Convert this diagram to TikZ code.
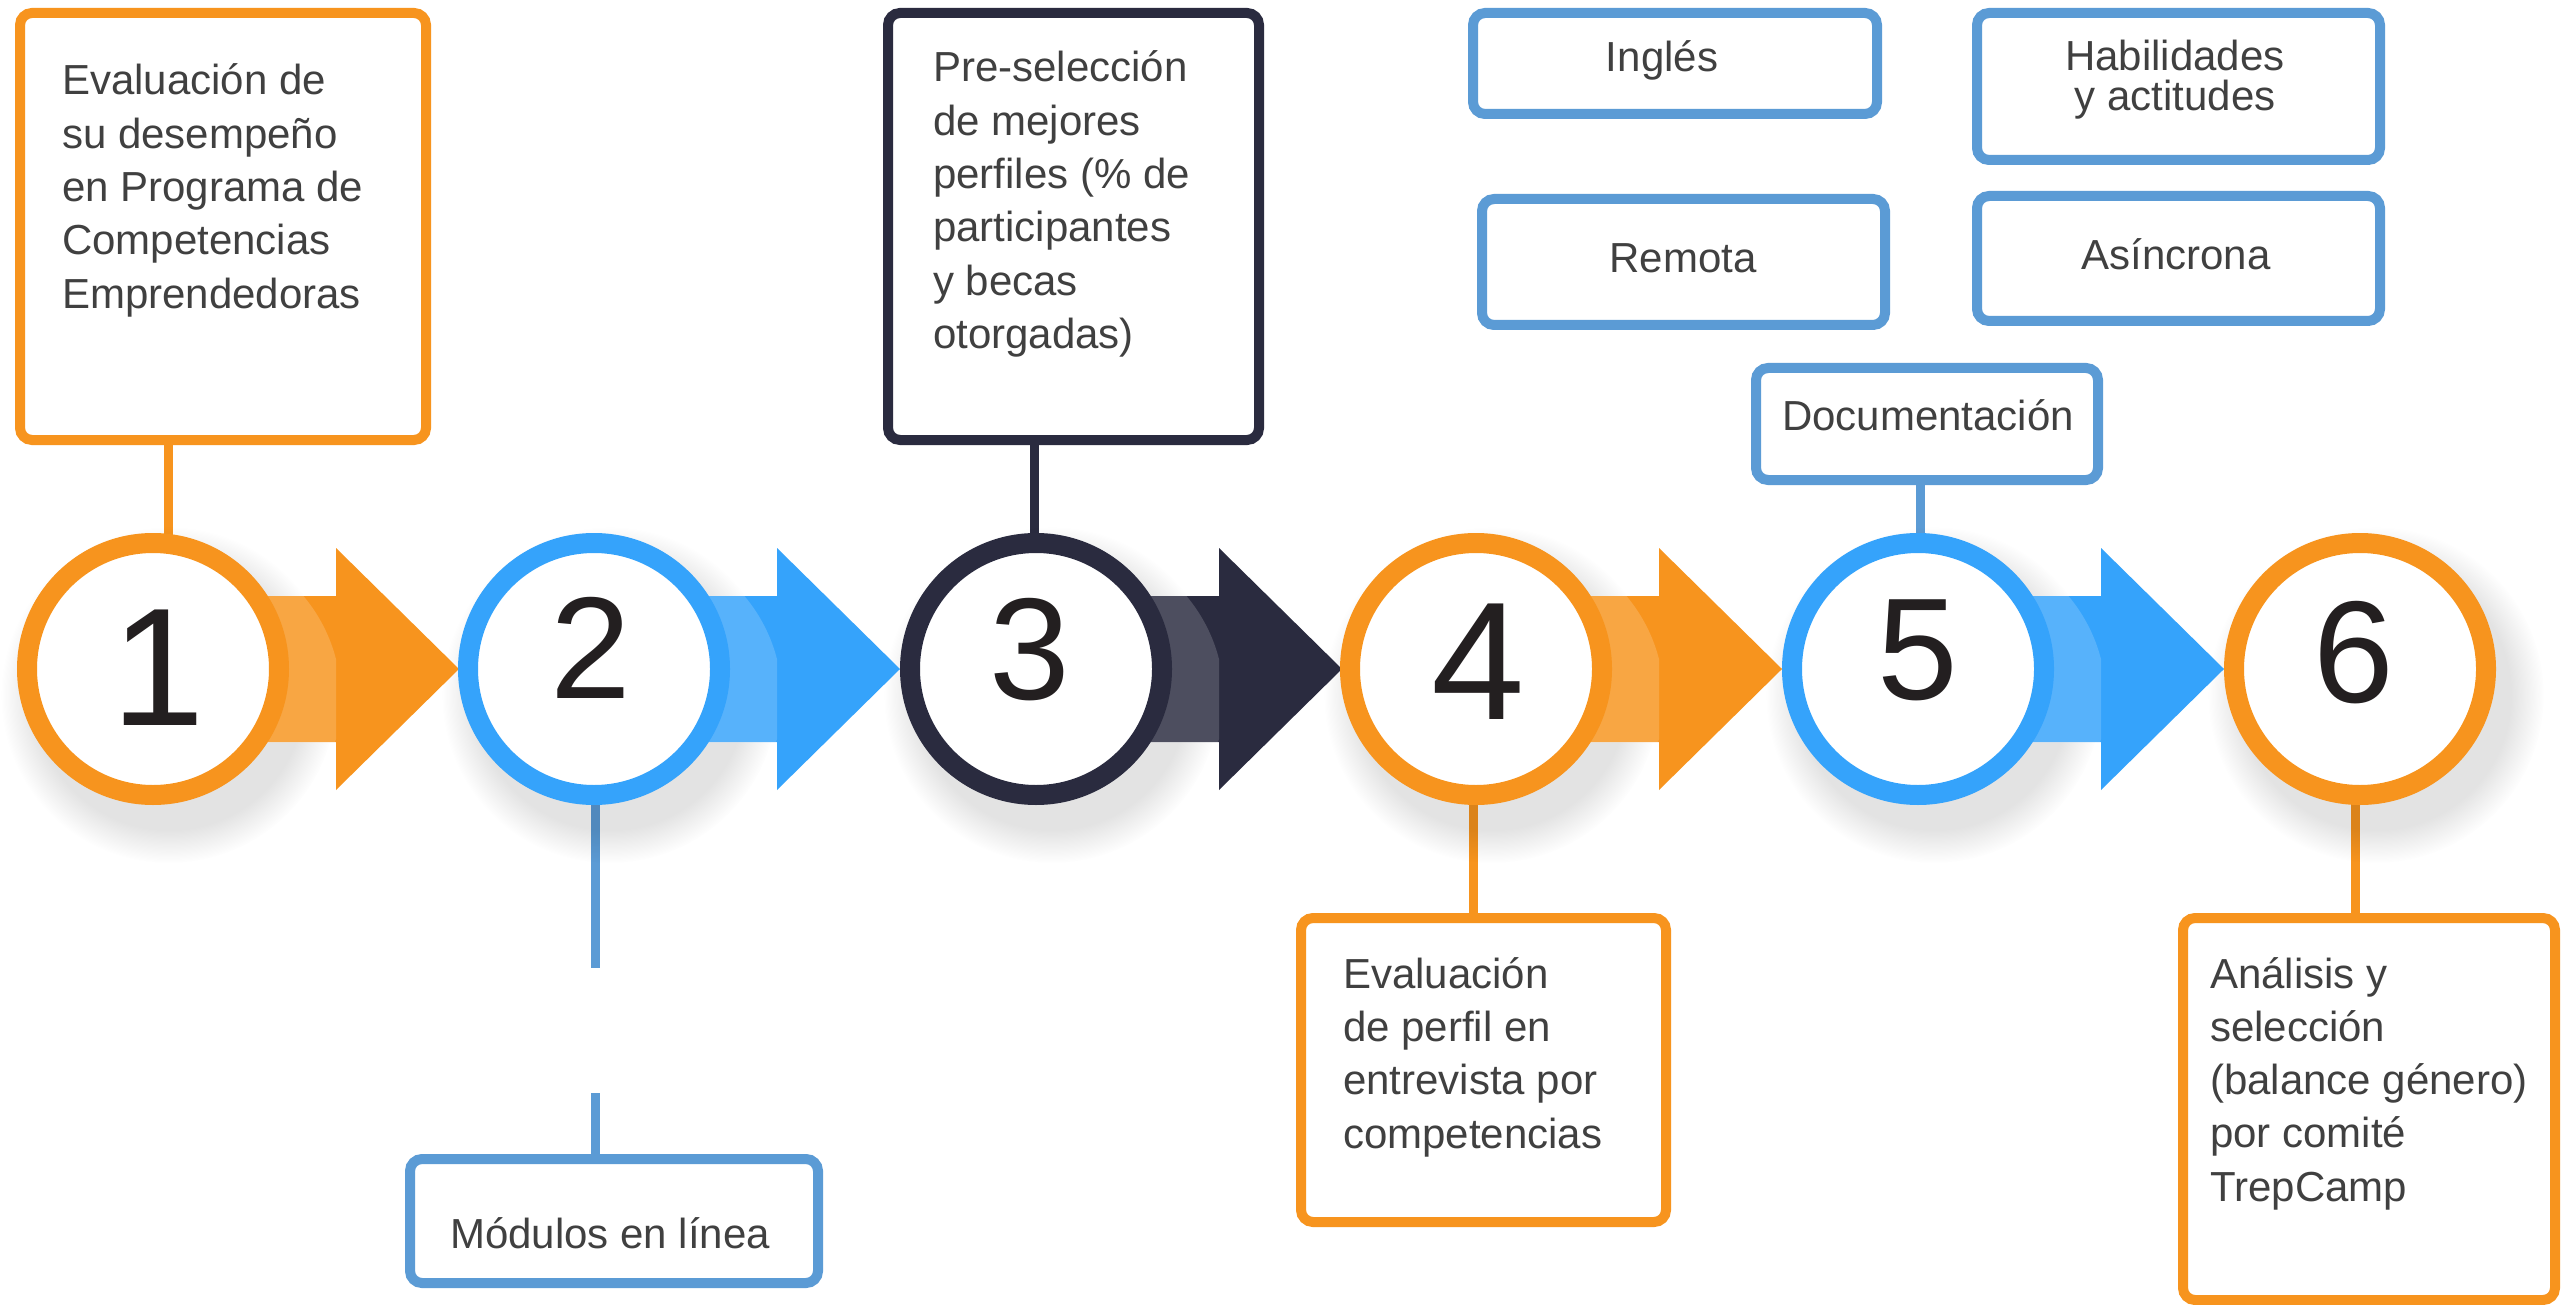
\documentclass[tikz,border=0pt]{standalone}
\usepackage{fontspec}
\setmainfont{Liberation Sans}
\usetikzlibrary{fadings}
\definecolor{cOr}{HTML}{F7941E}
\definecolor{cBl}{HTML}{35A3FB}
\definecolor{cNv}{HTML}{2A2B3F}
\definecolor{cSb}{HTML}{5B9BD5}
\definecolor{cTx}{HTML}{404040}
\definecolor{cDg}{HTML}{231F20}
\pgfdeclarelayer{back}
\pgfdeclarelayer{mid}
\pgfsetlayers{back,mid,main}
\newcommand\flowarrow[2]{%
  \fill[#2] (#1.center) ++(0,-73) -- ++(183,0) -- ++(0,-48) -- ++(123,121)
     -- ++(-123,121) -- ++(0,-48) -- ++(-183,0) -- cycle;
  \begin{scope}
    \clip (#1.center) ++(0,-73) rectangle ++(183,146);
    \fill[white, opacity=0.17] (#1.center) ++(28,30) circle[radius=160];
  \end{scope}}
\begin{document}
\begin{tikzpicture}[x=1pt,y=-1pt,
  bx/.style={draw, line width=10pt, rounded corners=12pt, fill=white, inner sep=0pt},
  obox/.style={bx, draw=cOr},
  nbox/.style={bx, draw=cNv},
  sbox/.style={bx, draw=cSb},
  txt/.style={text=cTx, font=\fontsize{42}{53.3}\selectfont, inner sep=0pt, align=left, anchor=base west},
  ctxt/.style={text=cTx, font=\fontsize{42}{40}\selectfont, inner sep=0pt, align=center, anchor=base},
  ring/.style={circle, draw=#1, line width=20pt, fill=white, minimum size=252pt, inner sep=0pt},
  digit/.style={text=cDg, inner sep=0pt, anchor=center},
  conn/.style={line width=9pt, draw=#1},
  shadowdisk/.style={fill=black, opacity=0.11, path fading=circle with fuzzy edge 20 percent}]
\useasboundingbox (0,0) rectangle (2570,1305);

% circles
\node[ring=cOr] (c1) at (153,669) {};
\node[ring=cBl] (c2) at (594,669) {};
\node[ring=cNv] (c3) at (1036,669) {};
\node[ring=cOr] (c4) at (1476,669) {};
\node[ring=cBl] (c5) at (1918,669) {};
\node[ring=cOr] (c6) at (2360,669) {};

% digits
\node[digit, font=\fontsize{168}{168}\selectfont] (d1) at (158,668) {1};
\node[digit, font=\fontsize{145}{145}\selectfont] (d2) at (591,648) {2};
\node[digit, font=\fontsize{145}{145}\selectfont] (d3) at (1030,650) {3};
\node[digit, font=\fontsize{168}{168}\selectfont] (d4) at (1478,662) {4};
\node[digit, font=\fontsize{145}{145}\selectfont] (d5) at (1918,650) {5};
\node[digit, font=\fontsize{145}{145}\selectfont] (d6) at (2354,653) {6};

% boxes
\node[obox, minimum width=406pt, minimum height=427pt] (b1) at (223,226.5) {};
\node[nbox, minimum width=371pt, minimum height=427pt] (b3) at (1073.5,226.5) {};
\node[sbox, minimum width=404pt, minimum height=101pt] (bI) at (1675,63.5) {};
\node[sbox, minimum width=403pt, minimum height=147pt] (bH) at (2178.5,86.5) {};
\node[sbox, minimum width=403pt, minimum height=126pt] (bR) at (1683.5,262) {};
\node[sbox, minimum width=403pt, minimum height=125pt] (bA) at (2178.5,258.5) {};
\node[sbox, minimum width=342pt, minimum height=112pt] (b5) at (1927,424) {};
\node[sbox, minimum width=408pt, minimum height=124pt] (b2) at (614,1221) {};
\node[obox, minimum width=365pt, minimum height=304pt] (b4) at (1483.5,1070) {};
\node[obox, minimum width=372pt, minimum height=382pt] (b6) at (2369,1109) {};

% texts (anchor = baseline of the last line)
\node[txt] (t1) at (62,308.2) {Evaluación de\\su desempeño\\en Programa de\\Competencias\\Emprendedoras};
\node[txt] (t3) at (933,348.5) {Pre-selección\\de mejores\\perfiles (\% de\\participantes\\y becas\\otorgadas)};
\node[txt] (t4) at (1343,1148) {Evaluación\\de perfil en\\entrevista por\\competencias};
\node[txt] (t6) at (2210,1201.2) {Análisis y\\selección\\(balance género)\\por comité\\TrepCamp};
\node[txt] (t2) at (450,1248) {Módulos en línea};
\node[ctxt] (tI) at (1662,72) {Inglés};
\node[ctxt] (tH) at (2175,111) {Habilidades\\y actitudes};
\node[ctxt] (tR) at (1683,273) {Remota};
\node[ctxt] (tA) at (2176,270) {Asíncrona};
\node[ctxt] (tD) at (1928,430) {Documentación};

% connector guide coordinates
\coordinate (k1) at (168,0);
\coordinate (k3) at (1034,0);
\coordinate (k5) at (1920,0);
\coordinate (k4) at (1473,0);
\coordinate (k6) at (2355,0);
\coordinate (g1) at (595,968);
\coordinate (g2) at (595,1093);

\begin{pgfonlayer}{back}
  \fill[white] (0,0) rectangle (2570,1305);
  \draw[conn=cOr] (b1.south -| k1) -- (c1.center -| k1);
  \draw[conn=cNv] (b3.south -| k3) -- (c3.center -| k3);
  \draw[conn=cSb] (b5.south -| k5) -- (c5.center -| k5);
  \draw[conn=cOr] (c4.center -| k4) -- (b4.north -| k4);
  \draw[conn=cOr] (c6.center -| k6) -- (b6.north -| k6);
  \draw[conn=cSb] (c2.south -| g1) -- (g1);
  \draw[conn=cSb] (g2) -- (b2.north -| g2);
  \foreach \c in {c1,c2,c3,c4,c5,c6}
    \fill[shadowdisk] (\c.center) ++(16,26) circle[radius=168];
\end{pgfonlayer}
\begin{pgfonlayer}{mid}
  \flowarrow{c1}{cOr}
  \flowarrow{c2}{cBl}
  \flowarrow{c3}{cNv}
  \flowarrow{c4}{cOr}
  \flowarrow{c5}{cBl}
\end{pgfonlayer}
\end{tikzpicture}
\end{document}
